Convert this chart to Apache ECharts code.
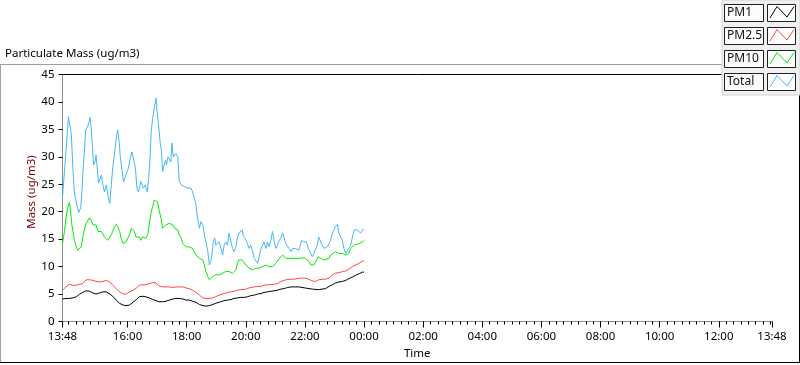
<!DOCTYPE html>
<html>
<head>
<meta charset="utf-8">
<script src="https://cdn.jsdelivr.net/npm/echarts@6/dist/echarts.min.js"></script>
<style>
  html, body { margin: 0; padding: 0; background: #fff; }
  #chart { width: 800px; height: 365px; }
</style>
</head>
<body>
<div id="chart"></div>
<script>
// x values are minutes after 13:48
var tickMinutes = [0, 132, 252, 372, 492, 612, 732, 852, 972, 1092, 1212, 1332, 1440];
var tickLabels = ['13:48', '16:00', '18:00', '20:00', '22:00', '00:00', '02:00', '04:00', '06:00', '08:00', '10:00', '12:00', '13:48'];
var seriesNames = ['PM1', 'PM2.5', 'PM10', 'Total'];
var seriesColors = ['#000000', '#ff4646', '#00ee00', '#45b8f5'];

var pm1Time = [0,7,14,21,28,35,41,48,55,62,68,75,82,89,96,102,109,116,123,129,136,143,150,156,163,169,176,183,190,196,203,210,217,224,230,237,244,251,257,264,271,278,285,291,298,305,310,314,321,328,335,342,348,355,362,369,375,382,389,396,403,409,416,423,430,436,443,450,457,464,470,480,493,507,520,534,541,548,554,561,568,575,581,588,595,602,609,612];
var pm1Mass = [4.1,4.2,4.2,4.3,4.5,5.0,5.3,5.6,5.5,5.2,5.0,5.2,5.4,5.4,5.0,4.6,3.9,3.3,3.0,2.9,3.0,3.5,4.0,4.5,4.6,4.5,4.3,4.0,3.8,3.6,3.6,3.7,3.9,4.1,4.2,4.2,4.1,3.9,3.9,3.7,3.5,3.1,2.9,2.8,2.9,3.1,3.3,3.4,3.6,3.8,3.9,4.0,4.2,4.3,4.4,4.4,4.5,4.7,4.8,5.0,5.1,5.3,5.4,5.5,5.6,5.7,5.9,6.0,6.2,6.3,6.3,6.3,6.1,5.9,5.8,6.0,6.4,6.7,7.0,7.2,7.3,7.5,7.8,8.1,8.4,8.7,9.0,9.0];

var pm25Time = [0,7,14,21,28,35,41,48,55,62,68,75,82,89,96,102,109,116,123,129,136,143,150,156,163,169,176,183,190,196,203,210,217,224,230,237,244,251,257,264,271,278,285,291,298,305,310,314,321,328,335,342,348,355,362,369,375,382,389,396,403,409,416,423,430,436,443,450,457,464,470,480,493,500,507,514,520,527,534,541,548,554,561,568,575,581,588,595,602,609,612];
var pm25Mass = [5.7,6.3,6.8,6.6,6.6,6.8,6.9,7.6,7.6,7.5,7.3,7.2,7.3,7.5,7.2,6.6,6.0,5.4,5.0,5.0,5.4,5.7,6.1,6.6,6.7,6.7,6.9,7.1,7.0,6.5,6.3,6.3,6.3,6.2,6.3,6.3,6.3,6.1,6.0,5.7,5.3,4.8,4.3,4.2,4.2,4.3,4.5,4.7,4.9,5.1,5.3,5.4,5.5,5.7,5.8,5.8,6.0,6.2,6.3,6.4,6.4,6.6,6.7,6.7,6.8,6.9,7.3,7.5,7.7,7.7,7.7,7.9,7.9,7.7,7.4,7.3,7.6,7.7,7.7,7.9,8.5,8.8,8.9,9.1,9.2,9.5,10.0,10.3,10.6,11.0,11.0];

var pm10Time = [0,4,7,11,14,16,19,22,24,28,31,35,38,41,45,48,51,55,58,62,65,68,72,75,79,82,85,89,92,96,99,102,106,109,112,116,119,123,126,129,133,136,140,143,146,149,152,156,159,163,166,169,173,176,180,183,186,190,193,196,200,203,207,210,213,217,220,224,227,230,234,237,241,244,247,251,254,257,261,264,268,271,274,278,281,285,288,291,295,298,302,305,308,311,314,318,321,325,328,331,335,338,342,345,348,352,355,358,362,365,369,372,375,379,382,386,389,392,396,399,403,406,409,413,416,419,423,426,430,433,436,440,443,447,450,453,457,464,470,473,480,487,493,500,504,507,510,514,519,524,527,531,534,541,544,548,554,561,568,575,578,581,585,588,592,595,602,605,609,612];
var pm10Mass = [14.2,16.4,18.8,20.9,21.7,20.3,17.6,16.1,14.8,13.6,13.0,13.3,13.6,15.2,17.0,17.9,18.2,18.9,18.5,17.6,17.3,17.6,16.4,16.7,16.4,16.1,15.4,15.4,14.8,14.8,15.8,16.1,17.3,17.7,17.3,16.4,15.2,14.2,14.2,14.5,14.5,15.8,17.0,17.1,16.4,15.4,15.2,15.4,14.8,15.4,15.2,15.2,15.8,17.6,20.0,20.9,22.1,22.4,21.8,20.3,18.8,17.0,17.3,17.6,17.3,17.9,17.6,17.6,17.0,17.3,16.7,15.8,15.2,14.2,13.9,13.6,13.9,13.6,13.6,13.3,13.0,12.1,11.8,11.5,11.2,11.2,10.3,9.1,8.2,7.6,7.9,8.2,8.5,8.5,8.2,8.5,8.8,8.8,9.1,9.1,9.4,9.1,8.8,8.8,8.8,9.4,10.6,11.2,11.3,11.2,10.9,10.3,10.0,9.7,9.4,9.4,9.1,9.7,9.4,9.7,10.0,10.0,10.0,10.3,10.0,10.0,10.3,10.0,10.0,10.6,10.9,11.5,11.8,12.1,11.8,11.5,11.5,11.5,11.5,11.5,11.5,11.6,11.5,10.9,10.3,10.0,10.3,10.9,11.8,11.5,11.2,11.2,11.5,11.5,12.1,12.4,12.7,12.4,12.4,12.1,11.8,12.4,13.3,13.6,13.9,14.2,14.2,14.5,14.5,14.8];

var totalTime = [0,7,12,15,18,21,24,29,33,37,39,42,45,47,51,54,56,58,61,63,66,68,70,73,75,79,82,85,89,92,96,99,102,106,109,112,115,117,121,124,127,131,134,138,141,145,148,151,154,159,164,168,172,175,178,180,183,186,190,192,195,198,201,203,206,209,211,214,217,220,222,225,228,230,234,237,241,244,247,251,254,257,261,264,268,271,274,278,281,285,288,291,295,298,301,304,306,309,311,314,318,321,325,328,331,335,338,342,345,348,352,355,358,362,365,367,370,373,375,379,382,386,389,392,396,399,403,406,409,413,416,419,423,426,430,433,436,440,443,447,449,452,455,460,464,467,470,473,480,485,490,495,499,504,507,510,514,517,520,524,527,531,534,537,541,544,548,551,554,558,561,565,568,571,575,578,581,585,588,592,595,598,602,605,609,612];
var totalMass = [22.7,30.9,37.3,37.5,34.0,28.0,23.6,21.2,19.9,20.7,23.0,28.0,31.6,34.9,35.5,36.4,37.2,35.5,31.8,28.5,29.1,30.3,28.5,25.2,24.9,26.7,24.9,23.6,24.9,23.0,21.5,24.9,28.0,30.9,33.4,34.9,32.8,30.3,27.3,25.5,25.8,27.3,28.0,30.0,30.9,30.9,28.0,24.3,23.6,25.5,24.3,24.9,23.6,26.1,30.3,34.6,37.0,38.8,40.7,38.2,35.8,32.8,30.9,27.3,28.5,29.4,28.5,30.0,30.3,29.1,32.5,30.0,30.3,30.6,30.0,25.5,24.9,25.2,24.6,24.9,24.3,24.6,24.3,23.6,22.4,21.2,18.8,17.0,18.2,17.6,15.8,14.5,12.7,10.3,10.9,12.7,14.5,15.2,13.9,14.2,14.5,13.6,12.1,13.9,14.5,13.9,16.1,14.5,13.3,12.7,13.6,15.2,16.1,16.4,16.7,15.5,15.8,14.8,14.2,13.3,13.9,12.7,11.5,11.2,10.6,11.8,13.3,13.9,14.5,13.3,14.5,13.6,14.8,16.4,14.5,13.3,13.9,14.8,15.2,16.1,16.4,14.5,13.9,13.3,12.7,13.3,13.0,13.3,13.0,14.8,14.5,14.5,13.3,12.4,11.8,12.4,12.7,13.9,15.4,15.2,13.9,13.3,13.0,13.6,14.2,14.8,16.1,16.1,17.3,17.7,16.1,15.8,14.8,13.3,12.4,12.7,13.3,13.9,15.2,16.7,16.4,16.7,16.4,16.1,16.7,16.7];

var minorTicks = [];
for (var m = 12; m < 1440; m += 15) minorTicks.push(m);

function pairs(t, v) {
	return t.map(function (x, i) { return [x, v[i]]; });
}
var seriesData = [pairs(pm1Time, pm1Mass), pairs(pm25Time, pm25Mass), pairs(pm10Time, pm10Mass), pairs(totalTime, totalMass)];

var font = 'Noto Sans';
var mychart = echarts.init(document.getElementById('chart'), null, { renderer: 'canvas' });

// legend drawn as graphic boxes, top right
var legendGraphics = [{
	type: 'rect', shape: { x: 722, y: 0, width: 78, height: 95 },
	style: { fill: '#f0f0f0', stroke: '#d4d4d4', lineWidth: 1 }, z: 100
}];
for (var i = 0; i < seriesNames.length; i++) {
	var y0 = 4 + i * 23;
	legendGraphics.push({
		type: 'rect', shape: { x: 724.5, y: y0 + 0.5, width: 39, height: 17 },
		style: { fill: '#fbfbfb', stroke: '#202020', lineWidth: 1 }, z: 101
	});
	legendGraphics.push({
		type: 'text', x: 727, y: y0 + 9,
		style: { text: seriesNames[i], fill: '#111', font: '12px "' + font + '"', textVerticalAlign: 'middle' }, z: 102
	});
	legendGraphics.push({
		type: 'rect', shape: { x: 767.5, y: y0 + 0.5, width: 28, height: 17 },
		style: { fill: '#ffffff', stroke: '#202020', lineWidth: 1 }, z: 101
	});
	legendGraphics.push({
		type: 'polyline', shape: { points: [[770, y0 + 14], [777, y0 + 2.5], [787, y0 + 13], [794, y0 + 2.5]] },
		style: { stroke: seriesColors[i], lineWidth: 1, fill: null }, z: 102
	});
}

var option = {
	animation: false,
	backgroundColor: '#ffffff',
	textStyle: { fontFamily: font },
	grid: { left: 62.5, right: 28, top: 74.5, bottom: 43.5, containLabel: false },
	xAxis: [{
		type: 'value', min: 0, max: 1440, position: 'bottom',
		name: 'Time', nameLocation: 'middle', nameGap: 25,
		nameTextStyle: { color: '#000', fontSize: 11.5 },
		axisLine: { show: true, lineStyle: { color: '#8c8c8c', width: 1 } },
		axisTick: { show: true, length: 6, lineStyle: { color: '#000' }, customValues: tickMinutes },
		axisLabel: {
			show: true, margin: 9, color: '#000', fontSize: 11.5, showMinLabel: true, showMaxLabel: true,
			customValues: tickMinutes,
			formatter: function (v) { return tickLabels[tickMinutes.indexOf(v)]; }
		},
		splitLine: { show: false }
	}, {
		type: 'value', min: 0, max: 1440, position: 'bottom',
		axisLine: { show: true, lineStyle: { color: 'rgba(0,0,0,0)' } },
		axisTick: { show: true, length: 3, lineStyle: { color: '#000' }, customValues: minorTicks },
		axisLabel: { show: true, color: 'rgba(0,0,0,0)', customValues: [0], formatter: function () { return ''; } },
		splitLine: { show: false }
	}, {
		type: 'value', min: 0, max: 1440, position: 'top',
		axisLine: { show: true, lineStyle: { color: '#000', width: 1 } },
		axisTick: { show: false }, axisLabel: { show: false }, splitLine: { show: false }
	}],
	yAxis: [{
		type: 'value', min: 0, max: 45, interval: 5, position: 'left',
		name: 'Mass (ug/m3)', nameLocation: 'middle', nameGap: 25, nameRotate: 90, nameMoveOverlap: false,
		nameTextStyle: { color: '#7a0000', fontSize: 11.5, padding: [0, 0, 0, 12] },
		axisLine: { show: true, lineStyle: { color: '#000', width: 1 } },
		axisTick: { show: true, length: 4, lineStyle: { color: '#000' } },
		axisLabel: { margin: 8, color: '#000', fontSize: 11.5 },
		splitLine: { show: false }
	}, {
		type: 'value', min: 0, max: 45, interval: 5, position: 'right',
		axisLine: { show: true, lineStyle: { color: '#8c8c8c', width: 1 } },
		axisTick: { show: false }, axisLabel: { show: false }, splitLine: { show: false }
	}],
	graphic: [
		{ type: 'line', shape: { x1: 0, y1: 64.5, x2: 800, y2: 64.5 }, style: { stroke: '#a0a0a0', lineWidth: 1 } },
		{ type: 'line', shape: { x1: 0.5, y1: 64, x2: 0.5, y2: 363 }, style: { stroke: '#a0a0a0', lineWidth: 1 } },
		{ type: 'line', shape: { x1: 0, y1: 362.5, x2: 800, y2: 362.5 }, style: { stroke: '#000', lineWidth: 1 } },
		{ type: 'line', shape: { x1: 799.5, y1: 0, x2: 799.5, y2: 363 }, style: { stroke: '#000', lineWidth: 1 } },
		{ type: 'text', x: 5, y: 54, style: { text: 'Particulate Mass (ug/m3)', fill: '#000', font: '11.5px "' + font + '"', textVerticalAlign: 'middle' } }
	].concat(legendGraphics),
	series: seriesData.map(function (d, i) {
		return {
			name: seriesNames[i], type: 'line', xAxisIndex: 0, yAxisIndex: 0,
			data: d, showSymbol: false, symbol: 'none',
			lineStyle: { color: seriesColors[i], width: 1 },
			z: 4 - i
		};
	})
};
mychart.setOption(option);
</script>
</body>
</html>
